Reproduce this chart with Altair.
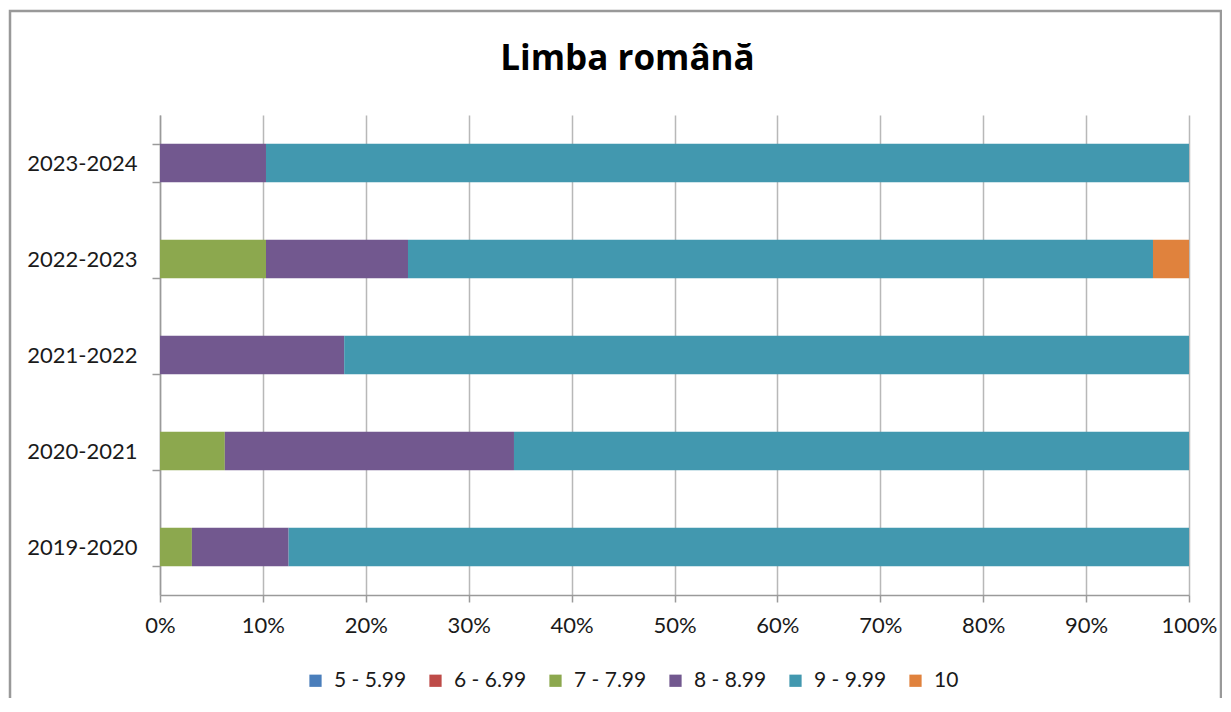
import altair as alt
import pandas as pd

years = ["2019-2020", "2020-2021", "2021-2022", "2022-2023", "2023-2024"]
series = ["5 - 5.99", "6 - 6.99", "7 - 7.99", "8 - 8.99", "9 - 9.99", "10"]
s5 = [0, 0, 0, 0, 0]
s6 = [0, 0, 0, 0, 0]
s7 = [3.1, 6.3, 0, 10.3, 0]
s8 = [9.4, 28.1, 17.9, 13.8, 10.3]
s9 = [87.5, 65.6, 82.1, 72.4, 89.7]
s10 = [0, 0, 0, 3.5, 0]
colors = ["#4A7EBB", "#BE4B48", "#8CA84E", "#72588F", "#4298AF", "#E0823D"]

rows = []
for si, (name, vals) in enumerate(zip(series, [s5, s6, s7, s8, s9, s10])):
    for y, v in zip(years, vals):
        rows.append({"year": y, "grade": name, "value": v, "order": si})
df = pd.DataFrame(rows)

FONT = "Lato"
TXT = "#1a1a1a"
AX = "#9a9a9a"

bars = alt.Chart(df).mark_bar().encode(
    y=alt.Y("year:N", sort=years[::-1], title=None,
            scale=alt.Scale(paddingInner=0.6, paddingOuter=0.3),
            axis=alt.Axis(tickBand="extent", tickSize=8, labelPadding=15,
                          labelFontSize=22, labelFont=FONT, labelColor=TXT,
                          domainColor=AX, tickColor=AX,
                          domainWidth=1.5, tickWidth=1.5, grid=False)),
    x=alt.X("value:Q", stack="normalize", title=None,
            scale=alt.Scale(domain=[0, 1]),
            axis=alt.Axis(format=".0%", values=[i / 10 for i in range(11)],
                          tickSize=7, labelPadding=13, labelFontSize=22,
                          labelFont=FONT, labelColor=TXT, labelFlush=False,
                          grid=True, gridColor="#b8b8b8", gridWidth=1.5,
                          domainColor=AX, tickColor=AX,
                          domainWidth=1.5, tickWidth=1.5)),
    color=alt.Color("grade:N", sort=series,
                    scale=alt.Scale(domain=series, range=colors),
                    legend=alt.Legend(title=None, orient="none", direction="horizontal",
                                      legendX=145, legendY=555,
                                      symbolType="square", symbolSize=150,
                                      symbolStrokeWidth=0,
                                      labelFontSize=21, labelFont=FONT,
                                      labelColor=TXT, columnPadding=18,
                                      labelOffset=8)),
    order=alt.Order("order:Q"),
)

frame_df = pd.DataFrame({"f": [0]})
frame = alt.Chart(frame_df).mark_rect(fill=None, stroke="#999999", strokeWidth=2.5).encode(
    x=alt.value(-150), x2=alt.value(1061), y=alt.value(-104), y2=alt.value(640)
)

chart = alt.layer(frame, bars).properties(
    width=1029, height=480,
    title=alt.TitleParams("Limba română", fontSize=35, font="Open Sans", fontWeight="bold",
                          color="#000000", anchor="middle", frame="group",
                          baseline="alphabetic", dx=-47, dy=95, offset=0),
    autosize=alt.AutoSizeParams(type="none"),
    padding={"left": 152, "top": 107, "right": 33, "bottom": 103},
).configure_view(stroke=None)

chart.save("out.html", embed_options={"renderer": "svg", "actions": False})
